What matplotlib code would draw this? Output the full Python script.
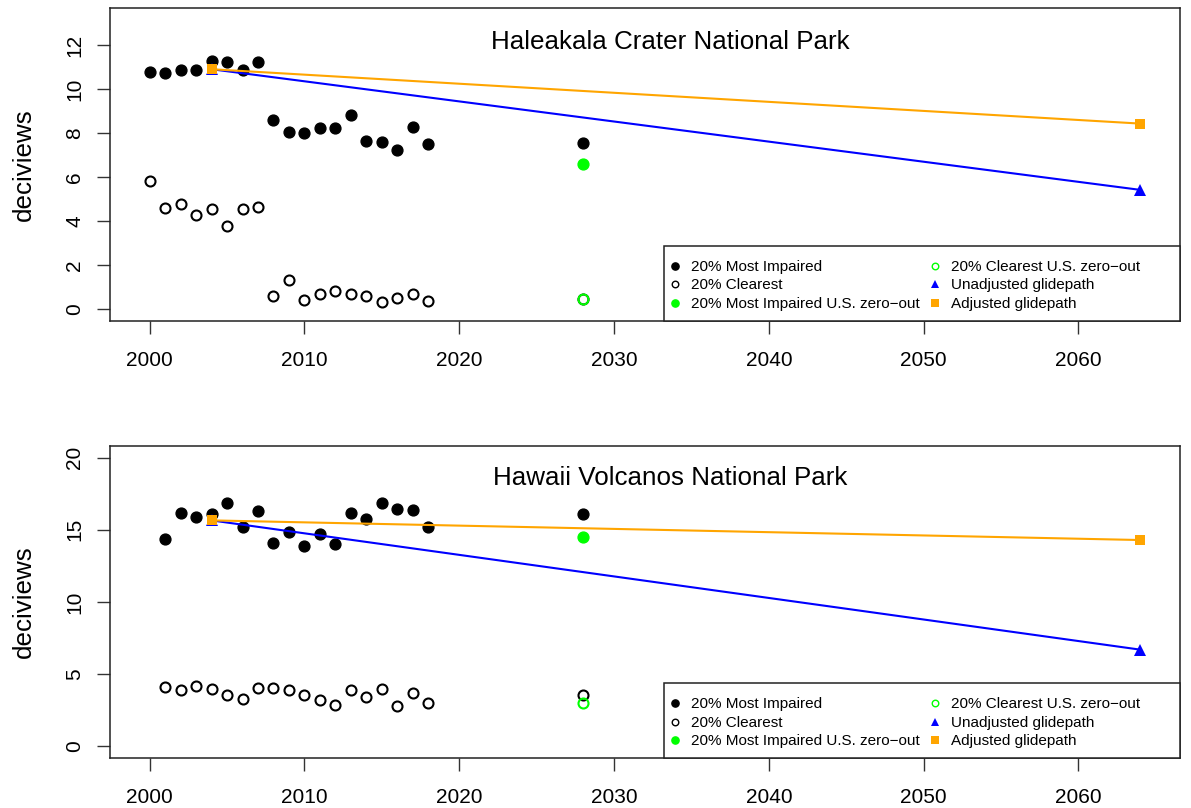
import matplotlib
matplotlib.use("Agg")
import matplotlib.pyplot as plt
from matplotlib.lines import Line2D
from matplotlib.patches import Rectangle

plt.rcParams['font.family'] = ['Liberation Sans', 'DejaVu Sans']

# Haleakala Crater National Park
years_a = list(range(2000, 2019))
impaired_a = [10.76, 10.71, 10.86, 10.86, 11.27, 11.22, 10.86, 11.22, 8.61, 8.07,
              8.01, 8.25, 8.22, 8.81, 7.66, 7.59, 7.24, 8.27, 7.50]
clearest_a = [5.82, 4.59, 4.78, 4.29, 4.54, 3.76, 4.54, 4.63, 0.62, 1.31,
              0.44, 0.70, 0.81, 0.70, 0.62, 0.32, 0.52, 0.71, 0.39]
impaired_2028_a = [7.53]
clearest_2028_a = [0.48]
zero_impaired_a = [6.59]
zero_clearest_a = [0.45]
unadj_a = [10.90, 5.42]
adj_a = [10.90, 8.43]

# Hawaii Volcanoes National Park
years_b = list(range(2001, 2019))
impaired_b = [14.36, 16.16, 15.90, 16.09, 16.87, 15.21, 16.27, 14.06, 14.86, 13.87,
              14.72, 13.99, 16.14, 15.76, 16.83, 16.44, 16.35, 15.17]
clearest_b = [4.11, 3.93, 4.18, 3.95, 3.56, 3.26, 4.02, 4.04, 3.93, 3.58,
              3.19, 2.89, 3.90, 3.45, 4.00, 2.80, 3.72, 3.03]
impaired_2028_b = [16.07]
clearest_2028_b = [3.54]
zero_impaired_b = [14.51]
zero_clearest_b = [3.00]
unadj_b = [15.65, 6.70]
adj_b = [15.65, 14.29]

year_2028 = [2028]
glide_years = [2004, 2064]
x_ticks = [2000, 2010, 2020, 2030, 2040, 2050, 2060]

labels = ["20% Most Impaired", "20% Clearest", "20% Most Impaired U.S. zero\u2212out",
          "20% Clearest U.S. zero\u2212out", "Unadjusted glidepath", "Adjusted glidepath"]

GREEN = "#00ff00"
ORANGE = "#ffa500"
BLUE = "#0000ff"


def panel(ax, title, yrs, imp, clr, imp28, clr28, zimp, zclr, unadj, adj, ylim, yticks, ty):
    ax.plot(yrs, clr, 'o', ms=7.2, mfc='white', mec='black', mew=1.5)
    ax.plot(yrs, imp, 'o', ms=7.8, mfc='black', mec='black', mew=1)
    ax.plot(year_2028, imp28, 'o', ms=7.8, mfc='black', mec='black', mew=1)
    ax.plot(year_2028, clr28, 'o', ms=7.2, mfc='white', mec='black', mew=1.5)
    ax.plot(year_2028, zimp, 'o', ms=7.8, mfc=GREEN, mec=GREEN, mew=1)
    ax.plot(year_2028, zclr, 'o', ms=7.2, mfc='none', mec=GREEN, mew=1.5)
    ax.plot(glide_years, unadj, '-^', color=BLUE, lw=1.5, ms=8, mew=0)
    ax.plot(glide_years, adj, '-s', color=ORANGE, lw=1.5, ms=7, mew=0)

    ax.set_xlim(1997.44, 2066.56)
    ax.set_ylim(*ylim)
    ax.set_xticks(x_ticks)
    ax.set_yticks(yticks)
    ax.tick_params(direction='out', length=9.5, width=1, labelsize=15, pad=9, color='#333333')
    ax.tick_params(axis='x', pad=12)
    ax.tick_params(axis='y', labelrotation=90)
    for lab in ax.get_yticklabels():
        lab.set_verticalalignment('center')
    for s in ax.spines.values():
        s.set_linewidth(1.1)
        s.set_color('#222222')
    ax.set_ylabel("deciviews", fontsize=18.7)
    ax.yaxis.set_label_coords(-0.069, 0.5)
    ax.text(0.5234, ty, title, transform=ax.transAxes, ha='center', va='center', fontsize=18.7)

    frame = Rectangle((0.5178, 0.0), 1 - 0.5178, 0.24, transform=ax.transAxes,
                      facecolor='white', edgecolor='#222222', lw=1.1, zorder=4, clip_on=False)
    ax.add_patch(frame)
    handles = [
        Line2D([], [], ls='none', marker='o', ms=5.2, mfc='black', mec='black'),
        Line2D([], [], ls='none', marker='o', ms=4.7, mfc='white', mec='black', mew=1),
        Line2D([], [], ls='none', marker='o', ms=5.2, mfc=GREEN, mec=GREEN),
        Line2D([], [], ls='none', marker='o', ms=4.7, mfc='white', mec=GREEN, mew=1),
        Line2D([], [], ls='none', marker='^', ms=6.2, mfc=BLUE, mec=BLUE, mew=0),
        Line2D([], [], ls='none', marker='s', ms=5.2, mfc=ORANGE, mec=ORANGE, mew=0),
    ]
    leg = ax.legend(handles, labels, ncol=2, loc='upper left', bbox_to_anchor=(0.5178, 0.219),
                    borderaxespad=0, frameon=False, fontsize=11, borderpad=0.5,
                    handlelength=0.45, handletextpad=0.8, columnspacing=0.8,
                    labelspacing=0.3)
    leg.set_zorder(5)


fig = plt.figure(figsize=(11.91, 8.08), dpi=100)
ax1 = fig.add_axes([0.09236, 0.6031, 0.8984, 0.3870])
ax2 = fig.add_axes([0.09236, 0.06188, 0.8984, 0.38614])

panel(ax1, "Haleakala Crater National Park", years_a, impaired_a, clearest_a,
      impaired_2028_a, clearest_2028_a, zero_impaired_a, zero_clearest_a,
      unadj_a, adj_a, (-0.52, 13.68), [0, 2, 4, 6, 8, 10, 12], 0.891)
panel(ax2, "Hawaii Volcanos National Park", years_b, impaired_b, clearest_b,
      impaired_2028_b, clearest_2028_b, zero_impaired_b, zero_clearest_b,
      unadj_b, adj_b, (-0.8, 20.8), [0, 5, 10, 15, 20], 0.897)

fig.savefig("out.png", dpi=100)
